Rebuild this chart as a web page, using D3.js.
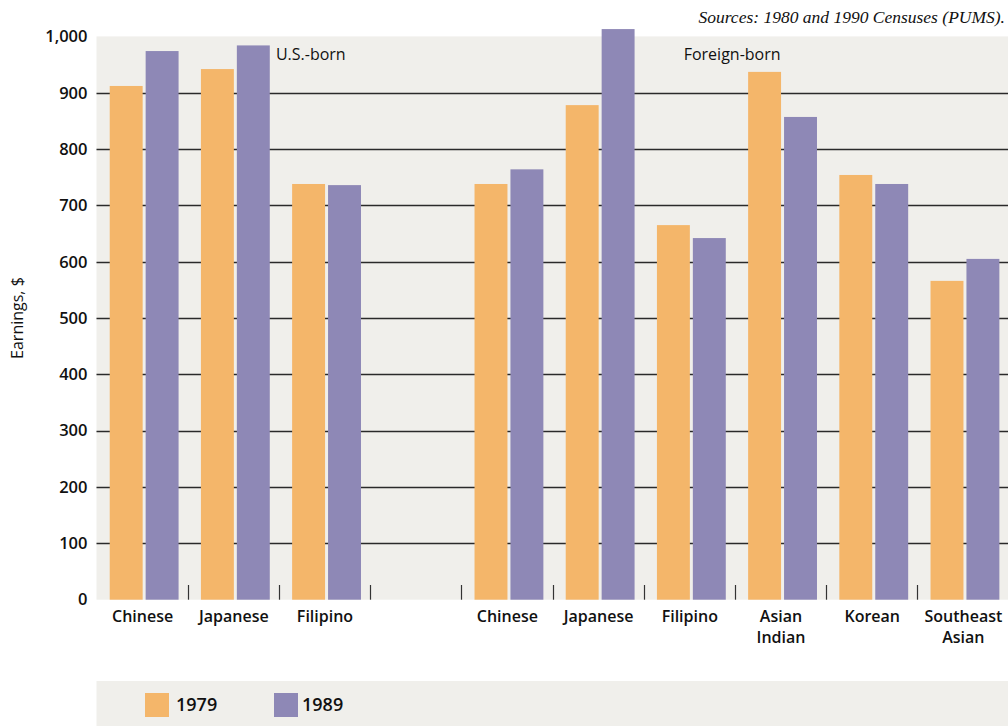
<!DOCTYPE html>
<html>
<head>
<meta charset="utf-8">
<script src="https://cdn.jsdelivr.net/npm/d3@7/dist/d3.min.js"></script>
<style>
  body { margin: 0; background: #fff; }
  svg { display: block; }
  text { font-family: "Open Sans", "Noto Sans", sans-serif; fill: #111; }
</style>
</head>
<body>
<svg id="chart" width="1008" height="726"></svg>
<script>
// ---- Data ----
const categories = ["Chinese", "Japanese", "Filipino", "", "Chinese", "Japanese", "Filipino", "Asian Indian", "Korean", "Southeast Asian"];
const slotIds = ["us-chinese", "us-japanese", "us-filipino", "gap", "fb-chinese", "fb-japanese", "fb-filipino", "fb-asianindian", "fb-korean", "fb-seasian"];
const series = ["1979", "1989"];
const values1979 = [912, 942, 738, null, 738, 878, 665, 937, 754, 566];
const values1989 = [974, 984, 736, null, 764, 1013, 642, 857, 738, 605];
const yTicks = [0, 100, 200, 300, 400, 500, 600, 700, 800, 900, 1000];
const groupLabels = [
  { text: "U.S.-born", slot: "us-filipino" },
  { text: "Foreign-born", slot: "fb-filipino" }
];
const sourceText = "Sources: 1980 and 1990 Censuses (PUMS).";
const yTitle = "Earnings, $";
const colors = ["#f4b66a", "#8e88b6"];

// ---- Layout ----
const svg = d3.select("#chart");
const W = 1008, H = 726;
const plot = { left: 96.5, right: 1008.5, top: 36.4, bottom: 599.7 };
const bg = "#f0efeb";

const x = d3.scaleBand().domain(slotIds).range([plot.left, plot.right]).padding(0);
const y = d3.scaleLinear().domain([0, 1000]).range([plot.bottom, plot.top]);
const bw = x.bandwidth();
const xInner = d3.scaleBand().domain(series).range([bw * 0.145, bw * 0.9]).paddingInner(3 / 36);

// plot background
svg.append("rect")
  .attr("x", plot.left).attr("y", plot.top)
  .attr("width", plot.right - plot.left).attr("height", plot.bottom - plot.top)
  .attr("fill", bg);

// gridlines (100..900)
svg.append("g").selectAll("line")
  .data(yTicks.filter(d => d > 0 && d < 1000))
  .join("line")
  .attr("x1", plot.left).attr("x2", W)
  .attr("y1", d => Math.round(y(d)) + 0.5).attr("y2", d => Math.round(y(d)) + 0.5)
  .attr("stroke", "#2a2a2a").attr("stroke-width", 1.3);

// y axis labels
const yAxis = d3.axisLeft(y).tickValues(yTicks).tickFormat(d3.format(",")).tickSize(0).tickPadding(9);
const yg = svg.append("g").attr("transform", `translate(${plot.left},0)`).call(yAxis);
yg.select(".domain").remove();
yg.selectAll("text")
  .style("font-family", '"Open Sans", sans-serif')
  .style("font-size", "16.5px").style("font-weight", 600).attr("fill", "#111");

// separator ticks between slots
svg.append("g").selectAll("line")
  .data(slotIds.slice(1))
  .join("line")
  .attr("x1", d => Math.round(x(d)) + 0.5).attr("x2", d => Math.round(x(d)) + 0.5)
  .attr("y1", 585).attr("y2", plot.bottom)
  .attr("stroke", "#333").attr("stroke-width", 1.2);

// bars
const rows = slotIds.map((id, i) => ({ id, vals: [values1979[i], values1989[i]] }))
  .filter(r => r.vals[0] != null);
const gs = svg.append("g").selectAll("g").data(rows).join("g")
  .attr("transform", d => `translate(${x(d.id)},0)`);
gs.selectAll("rect")
  .data(d => d.vals.map((v, j) => ({ s: series[j], v, j })))
  .join("rect")
  .attr("x", d => xInner(d.s))
  .attr("width", xInner.bandwidth())
  .attr("y", d => y(d.v))
  .attr("height", d => y(0) - y(d.v))
  .attr("fill", d => colors[d.j]);

// category labels
const xg = svg.append("g");
slotIds.forEach((id, i) => {
  if (!categories[i]) return;
  const words = categories[i].split(" ");
  const cx = x(id) + bw / 2 + 0.5;
  const t = xg.append("text")
    .attr("x", cx)
    .attr("text-anchor", "middle")
    .style("font-size", "16px").style("font-weight", 600);
  words.forEach((w, k) => {
    t.append("tspan").attr("x", cx).attr("y", 622 + k * 21).text(w);
  });
});

// group annotations
svg.append("g").selectAll("text").data(groupLabels).join("text")
  .attr("x", d => x(d.slot) - (d.slot === "us-filipino" ? 3 : -40))
  .attr("y", 60)
  .style("font-size", "16px").style("font-weight", 500)
  .text(d => d.text);

// y title
svg.append("text")
  .attr("transform", `translate(23,${(plot.top + plot.bottom) / 2}) rotate(-90)`)
  .attr("text-anchor", "middle")
  .style("font-size", "16px").style("font-weight", 500)
  .text(yTitle);

// source
svg.append("text")
  .attr("x", 1005).attr("y", 23)
  .attr("text-anchor", "end")
  .style("font-family", '"Liberation Serif", "Times New Roman", serif')
  .style("font-style", "italic")
  .style("font-size", "17.5px")
  .text(sourceText);

// legend
const leg = svg.append("g");
leg.append("rect").attr("x", plot.left).attr("y", 681).attr("width", W - plot.left).attr("height", H - 681).attr("fill", bg);
const legX = [145, 274];
series.forEach((s, i) => {
  leg.append("rect").attr("x", legX[i]).attr("y", 693).attr("width", 24).attr("height", 24).attr("fill", colors[i]);
  leg.append("text").attr("x", legX[i] + 31 + (i === 1 ? -3 : 0)).attr("y", 711)
    .style("font-size", "18px").style("font-weight", 600).text(s);
});
</script>
</body>
</html>
